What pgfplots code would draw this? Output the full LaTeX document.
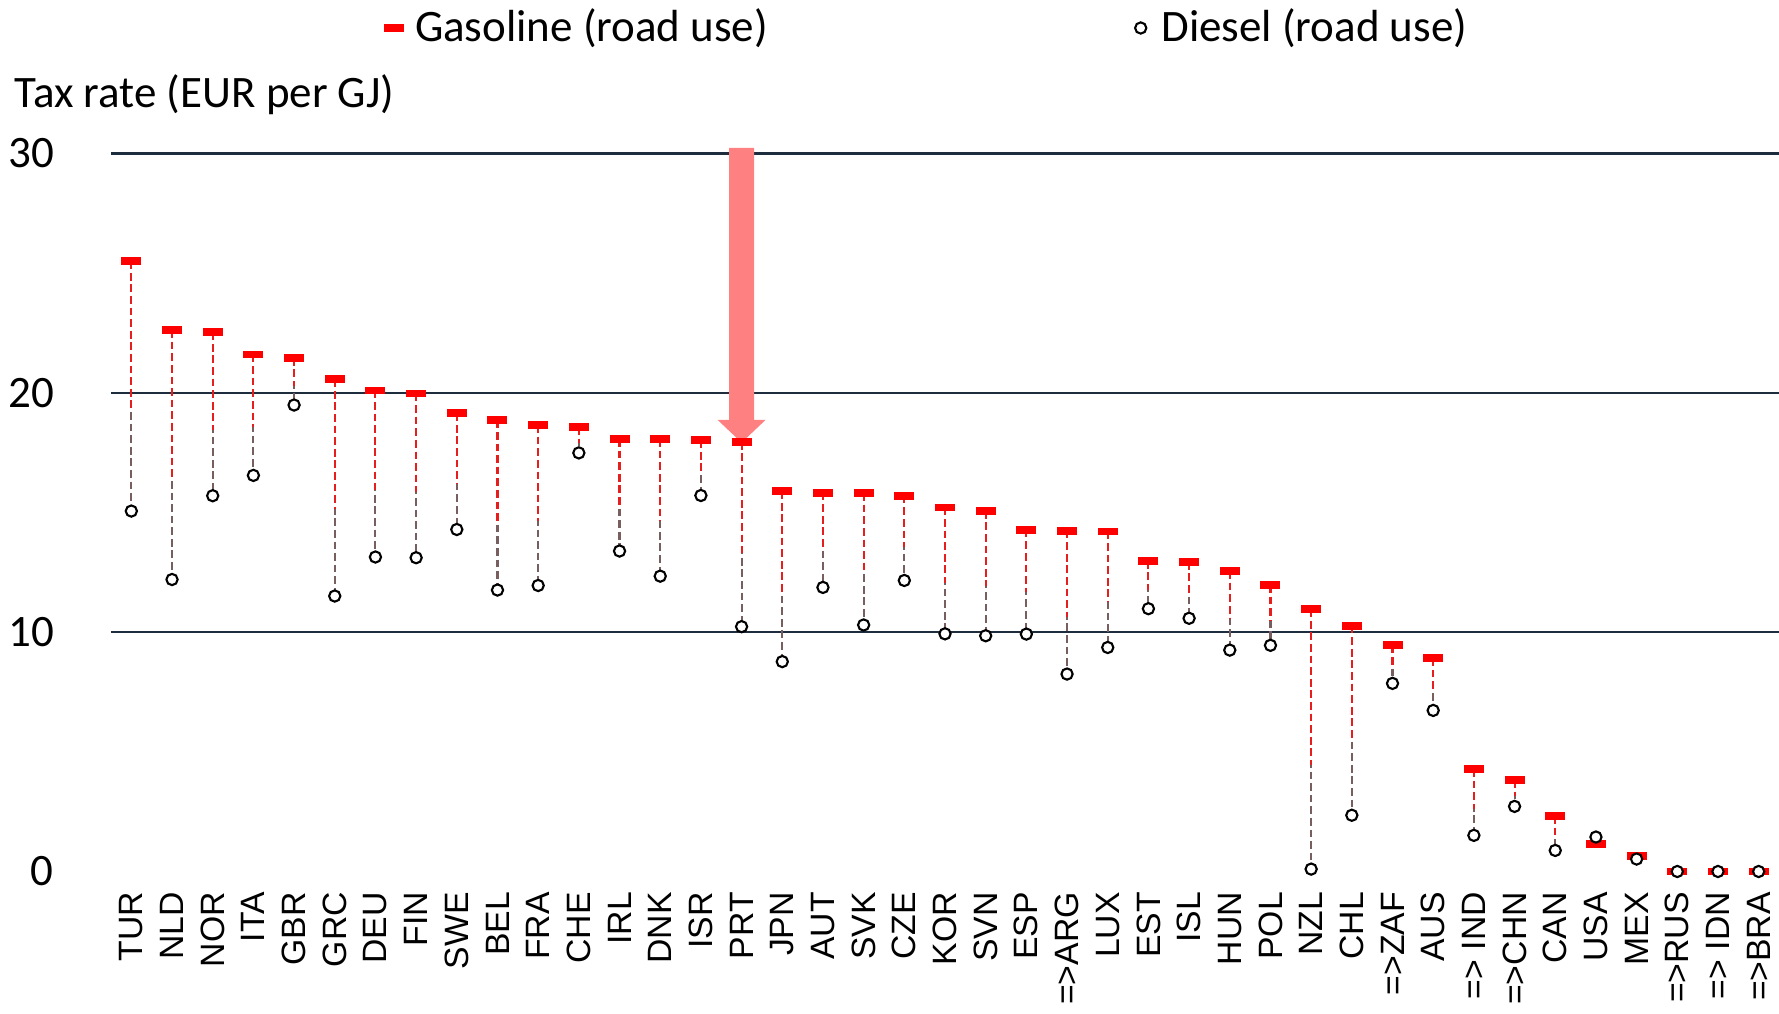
\documentclass[border=0pt]{standalone}
\usepackage{pgfplots}
\pgfplotsset{compat=1.18}
\usepackage{pgfplotstable}
\usepackage{fontspec}
\setmainfont{Carlito}
\newfontfamily\arialf{Liberation Sans}
\definecolor{gridc}{RGB}{30,45,62}
\definecolor{gasred}{RGB}{255,0,0}
\definecolor{dashred}{RGB}{230,30,30}
\definecolor{dashgray}{RGB}{120,95,95}
\definecolor{arrowpink}{RGB}{255,128,128}

\pgfplotstableread{
x gas diesel
0 25.5 15.06
1 22.62 12.2
2 22.53 15.7
3 21.6 16.55
4 21.46 19.49
5 20.57 11.51
6 20.1 13.14
7 19.97 13.11
8 19.15 14.29
9 18.85 11.76
10 18.65 11.95
11 18.57 17.49
12 18.07 13.39
13 18.07 12.34
14 18.02 15.71
15 17.95 10.23
16 15.89 8.77
17 15.83 11.87
18 15.81 10.3
19 15.7 12.16
20 15.21 9.93
21 15.07 9.85
22 14.28 9.92
23 14.24 8.25
24 14.21 9.36
25 12.98 10.98
26 12.94 10.58
27 12.55 9.25
28 11.97 9.45
29 10.96 0.1
30 10.27 2.35
31 9.45 7.86
32 8.92 6.73
33 4.28 1.51
34 3.82 2.72
35 2.32 0.88
36 1.15 1.44
37 0.66 0.52
38 0 0
39 0 0
40 0 0
}\taxdata

\begin{document}
\begin{tikzpicture}
\begin{axis}[
  at={(0,0)}, anchor=south west,
  scale only axis, width=16.68cm, height=7.18cm,
  xmin=-0.5, xmax=40.5, ymin=0, ymax=30,
  clip=false,
  axis line style={draw=none}, tick style={draw=none},
  xtick={0,...,40},
  xticklabels={TUR,NLD,NOR,ITA,GBR,GRC,DEU,FIN,SWE,BEL,FRA,CHE,IRL,DNK,ISR,PRT,JPN,AUT,SVK,CZE,KOR,SVN,ESP,=>ARG,LUX,EST,ISL,HUN,POL,NZL,CHL,=>ZAF,AUS,=> IND,=>CHN,CAN,USA,MEX,=>RUS,=> IDN,=>BRA},
  xticklabel style={font=\arialf\fontsize{9.6}{10}\selectfont, rotate=90, anchor=east, inner sep=0pt, xshift=-0.2cm},
  ytick={10,20,30},
  extra y ticks={0},
  extra y tick style={grid=none},
  ymajorgrids,
  grid style={color=gridc, line width=0.65pt},
  yticklabel style={font=\fontsize{12.8}{15}\selectfont, anchor=east, inner sep=0pt, xshift=-5.65mm},
  /pgf/number format/assume math mode=true,
  legend style={draw=none, fill=none, inner sep=0pt, legend columns=2,
    at={(axis description cs:0.161,1.1748)}, anchor=west,
    font=\fontsize{12.8}{15}\selectfont,
    /tikz/every even column/.append style={column sep=3.59cm}},
]
% arrow
\addplot[fill=arrowpink, draw=none, forget plot] coordinates {
  (14.693,30.24) (15.307,30.24) (15.307,18.87) (15.59,18.87) (15,17.92)
  (14.41,18.87) (14.693,18.87) (14.693,30.24)
} -- cycle;
% dashed connectors
\addplot[draw=none, mark=none, forget plot,
  error bars/.cd, y dir=minus, y explicit,
  error mark=none,
  error bar style={dashgray, line width=0.6pt, dash pattern=on 2.2pt off 1.1pt}]
  table[x=x, y=gas, y error expr=\thisrow{gas}-\thisrow{diesel}] {\taxdata};
\addplot[draw=none, mark=none, forget plot,
  error bars/.cd, y dir=minus, y explicit,
  error mark=none,
  error bar style={dashred, line width=0.6pt, dash pattern=on 2.2pt off 1.1pt}]
  table[x=x, y=gas, y error expr=0.6*(\thisrow{gas}-\thisrow{diesel})] {\taxdata};
% gasoline
\addplot[only marks, mark=-, mark size=1mm, color=gasred,
  mark options={line width=2.2pt},
  legend image code/.code={\draw[gasred, line width=2.2pt] (0cm,0cm) -- (0.2cm,0cm);}]
  table[x=x, y=gas] {\taxdata};
\addlegendentry{Gasoline (road use)}
% diesel
\addplot[only marks, mark=*, mark size=1.6pt,
  mark options={fill=white, draw=black, line width=0.6pt},
  legend image code/.code={\draw[black, fill=white, line width=0.6pt] (0.06cm,0cm) circle (1.6pt); \path (0.19cm,0cm);}]
  table[x=x, y=diesel] {\taxdata};
\addlegendentry{Diesel (road use)}
\end{axis}
\node[anchor=west, inner sep=0pt, font=\fontsize{12.8}{15}\selectfont] at (-0.97cm,7.765cm) {Tax rate (EUR per GJ)};
\pgfresetboundingbox
\path[use as bounding box] (-1.11cm,-1.425cm) rectangle (16.68cm,8.715cm);
\end{tikzpicture}
\end{document}
